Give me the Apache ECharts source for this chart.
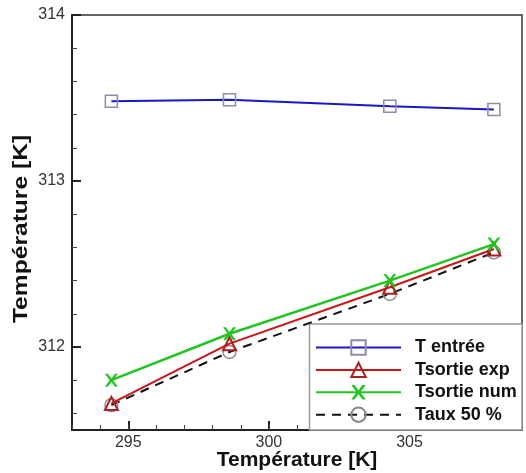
<!DOCTYPE html>
<html>
<head>
<meta charset="utf-8">
<script src="https://cdn.jsdelivr.net/npm/echarts@6/dist/echarts.min.js"></script>
<style>html,body{margin:0;padding:0;background:#fff;}#c{width:526px;height:473px;}</style>
</head>
<body>
<div id="c"></div>
<script>
// ---- data ----
const xValues = [294.4, 298.6, 304.3, 308.0];
const tEntree = [313.48, 313.49, 313.45, 313.43];
const tSortieExp = [311.66, 312.02, 312.36, 312.59];
const tSortieNum = [311.80, 312.08, 312.40, 312.62];
const taux50 = [311.65, 311.97, 312.32, 312.57];
const seriesNames = ['T entrée', 'Tsortie exp', 'Tsortie num', 'Taux 50 %'];
const xMajorTicks = [295, 300, 305];
const yMajorTicks = [312, 313, 314];
const yMinorTicks = [311.6, 311.8, 312.2, 312.4, 312.6, 312.8, 313.2, 313.4, 313.6, 313.8];
const xTitle = 'Température [K]';
const yTitle = 'Température [K]';

const pair = (ys) => xValues.map((x, i) => [x, ys[i]]);
const FONT = '"Liberation Sans", Arial, sans-serif';
const X_PATH = 'path://M0,0 L2.2,0 L5,3.6 L7.8,0 L10,0 L6.3,5 L10,10 L7.8,10 L5,6.4 L2.2,10 L0,10 L3.7,5 Z';

const chart = echarts.init(document.getElementById('c'), null, {renderer: 'canvas'});
chart.setOption({
  animation: false,
  backgroundColor: '#fff',
  grid: {left: 72, top: 15, right: 4, bottom: 43, containLabel: false, outerBoundsMode: 'none',
         show: true, borderColor: '#333', borderWidth: 1.5, backgroundColor: 'transparent'},
  graphic: [{
    type: 'rect', z: 1,
    shape: {x: 309.5, y: 324, width: 212.5, height: 106},
    style: {fill: '#fff', stroke: '#999', lineWidth: 1.5}
  }, {
    type: 'text', z: 5,
    x: 21, y: 229, rotation: Math.PI / 2, scaleX: 1.23,
    style: {text: yTitle, font: 'bold 20px "Liberation Sans", Arial, sans-serif', fill: '#111', align: 'center', verticalAlign: 'middle'}
  }],
  legend: {
    data: seriesNames,
    orient: 'vertical',
    left: 315, top: 338.5,
    itemWidth: 85, itemHeight: 18, itemGap: 4.4,
    padding: 0,
    textStyle: {fontFamily: FONT, fontWeight: 'bold', fontSize: 18, color: '#111', padding: [0, 0, 0, 9]}
  },
  xAxis: [{
    type: 'value', min: 293, max: 309,
    name: xTitle, nameLocation: 'middle', nameGap: 20, nameMoveOverlap: false,
    nameTextStyle: {fontFamily: FONT, fontWeight: 'bold', fontSize: 21, color: '#111'},
    axisLine: {onZero: false, lineStyle: {color: '#222', width: 2}},
    axisTick: {inside: true, length: 9, customValues: xMajorTicks, lineStyle: {color: '#222', width: 2}},
    axisLabel: {customValues: xMajorTicks, fontFamily: FONT, fontSize: 16, color: '#333', margin: 5},
    splitLine: {show: false}
  }, {
    type: 'value', min: 293, max: 309, interval: 1, position: 'bottom',
    axisLine: {show: false, onZero: false},
    axisTick: {inside: true, length: 5, lineStyle: {color: '#444', width: 1}},
    axisLabel: {show: false},
    splitLine: {show: false}
  }],
  yAxis: [{
    type: 'value', min: 311.5, max: 314, position: 'left',
    axisLine: {onZero: false, lineStyle: {color: '#222', width: 2}},
    axisTick: {inside: true, length: 9, customValues: yMajorTicks, lineStyle: {color: '#222', width: 2}},
    axisLabel: {customValues: yMajorTicks, fontFamily: FONT, fontSize: 16, color: '#333', margin: 7},
    splitLine: {show: false}
  }, {
    type: 'value', min: 311.5, max: 314, position: 'left',
    axisLine: {show: false, onZero: false},
    axisTick: {inside: true, length: 5, customValues: yMinorTicks, lineStyle: {color: '#444', width: 1}},
    axisLabel: {show: false},
    splitLine: {show: false}
  }],
  series: [{
    name: seriesNames[0], type: 'line', data: pair(tEntree),
    symbol: 'rect', symbolSize: 12,
    lineStyle: {color: '#1818c8', width: 2},
    itemStyle: {color: 'rgba(255,255,255,0)', borderColor: '#8c8ca8', borderWidth: 1.5},
    z: 3
  }, {
    name: seriesNames[3], type: 'line', data: pair(taux50),
    symbol: 'circle', symbolSize: 13,
    lineStyle: {color: '#111', width: 2, type: [9, 7]},
    itemStyle: {color: 'rgba(255,255,255,0)', borderColor: '#888', borderWidth: 1.3},
    z: 3
  }, {
    name: seriesNames[1], type: 'line', data: pair(tSortieExp),
    symbol: 'triangle', symbolSize: 13,
    lineStyle: {color: '#cc1414', width: 2},
    itemStyle: {color: 'rgba(255,255,255,0)', borderColor: '#a82020', borderWidth: 2},
    z: 4
  }, {
    name: seriesNames[2], type: 'line', data: pair(tSortieNum),
    symbol: X_PATH, symbolSize: 13,
    lineStyle: {color: '#22c422', width: 2.5},
    itemStyle: {color: '#22c422', borderWidth: 0},
    z: 5
  }]
});
</script>
</body>
</html>
